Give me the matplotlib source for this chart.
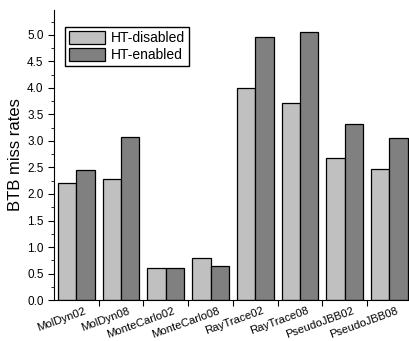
import numpy as np
import matplotlib.pyplot as plt
from matplotlib.ticker import MultipleLocator
from matplotlib.transforms import ScaledTranslation

# === DATA ===
benchmarks = ["MolDyn02", "MolDyn08", "MonteCarlo02", "MonteCarlo08",
              "RayTrace02", "RayTrace08", "PseudoJBB02", "PseudoJBB08"]
ht_disabled = [2.20, 2.29, 0.61, 0.80, 4.00, 3.72, 2.67, 2.48]
ht_enabled = [2.45, 3.07, 0.61, 0.64, 4.95, 5.06, 3.31, 3.06]

plt.rcParams['font.family'] = ['Liberation Sans', 'DejaVu Sans']

fig = plt.figure(figsize=(4.09, 3.41), dpi=100)
ax = fig.add_axes([0.132, 0.120, 0.875, 0.851])

x = np.arange(len(benchmarks))
w = 0.41
ax.bar(x - w / 2, ht_disabled, w, color="#c0c0c0", edgecolor="black",
       linewidth=0.9, label="HT-disabled")
ax.bar(x + w / 2, ht_enabled, w, color="#808080", edgecolor="black",
       linewidth=0.9, label="HT-enabled")

ax.set_xlim(-0.5, len(benchmarks) - 0.5)
ax.set_ylim(0, 5.47)
ax.yaxis.set_major_locator(MultipleLocator(0.5))
ax.yaxis.set_minor_locator(MultipleLocator(0.25))
ax.yaxis.set_major_formatter(plt.FormatStrFormatter("%.1f"))

# x ticks at group boundaries, labels at group centres
ax.set_xticks(x[1:] - 0.5)
ax.set_xticklabels([])
ax.set_xticks(x, minor=True)
ax.set_xticklabels(benchmarks, minor=True, rotation=20, ha="right",
                   rotation_mode="anchor", fontsize=8.2)
ax.tick_params(axis="x", which="minor", length=0, pad=4)
ax.tick_params(axis="x", which="major", length=4, direction="out")
ax.tick_params(axis="y", which="major", length=4, labelsize=8.5)
ax.tick_params(axis="y", which="minor", length=2)

# nudge rotated labels right so their ends sit past the group centre
shift = ScaledTranslation(5 / 72, 0, fig.dpi_scale_trans)
for lbl in ax.get_xticklabels(minor=True):
    lbl.set_transform(lbl.get_transform() + shift)

for s in ["top", "right"]:
    ax.spines[s].set_visible(False)

ax.set_ylabel("BTB miss rates", fontsize=12, labelpad=3)

ax.legend(loc="upper left", bbox_to_anchor=(0.03, 0.94), fontsize=10,
          frameon=True, fancybox=False, edgecolor="black", framealpha=1,
          handlelength=2.6, handleheight=1.0, borderpad=0.3,
          labelspacing=0.2, handletextpad=0.4, borderaxespad=0)

fig.savefig("out.png", dpi=100)
